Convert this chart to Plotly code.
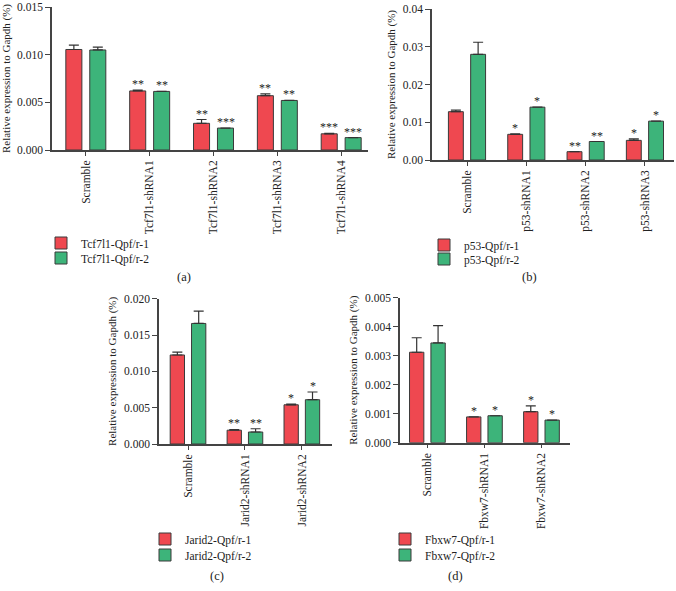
import plotly.graph_objects as go

RED = "#EF4850"
GREEN = "#3DB47A"
EDGE = "#3a3a3a"
FONT = "Liberation Serif, Times New Roman, serif"
W, H = 676, 591

# ---------------- data ----------------
a_categories = ["Scramble", "Tcf7l1-shRNA1", "Tcf7l1-shRNA2", "Tcf7l1-shRNA3", "Tcf7l1-shRNA4"]
a_r1 = [0.01055, 0.0062, 0.0028, 0.0057, 0.0017]
a_r1_err = [0.00045, 0.0001, 0.0004, 0.0002, 0.00005]
a_r2 = [0.0105, 0.00615, 0.0023, 0.0052, 0.0013]
a_r2_err = [0.0003, 0.0, 0.0, 0.0, 0.0]
a_r1_sig = ["", "**", "**", "**", "***"]
a_r2_sig = ["", "**", "***", "**", "***"]
a_names = ["Tcf7l1-Qpf/r-1", "Tcf7l1-Qpf/r-2"]

b_categories = ["Scramble", "p53-shRNA1", "p53-shRNA2", "p53-shRNA3"]
b_r1 = [0.0128, 0.0068, 0.0022, 0.0052]
b_r1_err = [0.0004, 0.0001, 0.0, 0.0004]
b_r2 = [0.0280, 0.0140, 0.0049, 0.0103]
b_r2_err = [0.0032, 0.0, 0.0, 0.0]
b_r1_sig = ["", "*", "**", "*"]
b_r2_sig = ["", "*", "**", "*"]
b_names = ["p53-Qpf/r-1", "p53-Qpf/r-2"]

c_categories = ["Scramble", "Jarid2-shRNA1", "Jarid2-shRNA2"]
c_r1 = [0.01226, 0.0019, 0.0054]
c_r1_err = [0.0004, 0.0001, 0.0001]
c_r2 = [0.0166, 0.00165, 0.0061]
c_r2_err = [0.0017, 0.00045, 0.00106]
c_r1_sig = ["", "**", "*"]
c_r2_sig = ["", "**", "*"]
c_names = ["Jarid2-Qpf/r-1", "Jarid2-Qpf/r-2"]

d_categories = ["Scramble", "Fbxw7-shRNA1", "Fbxw7-shRNA2"]
d_r1 = [0.00312, 0.00089, 0.00107]
d_r1_err = [0.0005, 0.0, 0.0002]
d_r2 = [0.00344, 0.00093, 0.00078]
d_r2_err = [0.0006, 0.0, 0.0]
d_r1_sig = ["", "*", "*"]
d_r2_sig = ["", "*", "*"]
d_names = ["Fbxw7-Qpf/r-1", "Fbxw7-Qpf/r-2"]

# ---------------- layout helpers ----------------
def px_x(p):
    return p / W

def px_y(p):
    return 1 - p / H

panels = [
    dict(key="a", cats=a_categories, r1=a_r1, e1=a_r1_err, r2=a_r2, e2=a_r2_err,
         s1=a_r1_sig, s2=a_r2_sig, names=a_names,
         xdom=(52, 368), ydom=(150, 7), xr=(-0.53, 4.42), yr=(0, 0.01501), dt=0.005, fmt=".3f",
         leg=(41, 243, 258), cap=(184, 277), slot=24),
    dict(key="b", cats=b_categories, r1=b_r1, e1=b_r1_err, r2=b_r2, e2=b_r2_err,
         s1=b_r1_sig, s2=b_r2_sig, names=b_names,
         xdom=(432, 674), ydom=(160, 9), xr=(-0.59, 3.49), yr=(0, 0.04001), dt=0.01, fmt=".2f",
         leg=(424, 245, 259), cap=(529, 277), slot=22),
    dict(key="c", cats=c_categories, r1=c_r1, e1=c_r1_err, r2=c_r2, e2=c_r2_err,
         s1=c_r1_sig, s2=c_r2_sig, names=c_names,
         xdom=(159, 332), ydom=(444, 298.7), xr=(-0.51, 2.53), yr=(0, 0.02001), dt=0.005, fmt=".3f",
         leg=(145, 539, 555), cap=(217, 576), slot=22),
    dict(key="d", cats=d_categories, r1=d_r1, e1=d_r1_err, r2=d_r2, e2=d_r2_err,
         s1=d_r1_sig, s2=d_r2_sig, names=d_names,
         xdom=(400, 570), ydom=(442.7, 297.7), xr=(-0.48, 2.5), yr=(0, 0.005001), dt=0.001, fmt=".3f",
         leg=(385, 539, 555), cap=(455, 576), slot=21),
]

fig = go.Figure()
annotations = []
layout_extra = {}
leg_count = 0

for i, p in enumerate(panels):
    n = i + 1
    xa = "x" if n == 1 else f"x{n}"
    ya = "y" if n == 1 else f"y{n}"
    xkey = "xaxis" if n == 1 else f"xaxis{n}"
    ykey = "yaxis" if n == 1 else f"yaxis{n}"

    series = [(p["r1"], p["e1"], RED, p["names"][0], p["leg"][1]),
              (p["r2"], p["e2"], GREEN, p["names"][1], p["leg"][2])]
    for vals, errs, color, name, ly in series:
        leg_count += 1
        lkey = "legend" if leg_count == 1 else f"legend{leg_count}"
        fig.add_trace(go.Bar(
            x=p["cats"], y=vals, name=name,
            marker=dict(color=color, line=dict(color=EDGE, width=1)),
            error_y=dict(type="data", symmetric=False, array=errs,
                         arrayminus=[0] * len(errs), color="#333333",
                         thickness=1.2, width=5),
            xaxis=xa, yaxis=ya, legend=lkey, offsetgroup=name,
        ))
        layout_extra[lkey] = dict(
            x=px_x(p["leg"][0]), y=px_y(ly), xanchor="left", yanchor="middle",
            font=dict(family=FONT, size=11.5, color="#222222"), bgcolor="rgba(0,0,0,0)",
            itemclick=False, borderwidth=0,
        )

    for vals, errs, sigs, shift in [(p["r1"], p["e1"], p["s1"], -p["slot"] / 2),
                                    (p["r2"], p["e2"], p["s2"], p["slot"] / 2)]:
        for c, v, e, s in zip(p["cats"], vals, errs, sigs):
            if s:
                annotations.append(dict(
                    x=c, y=v + e, xref=xa, yref=ya, text=s, showarrow=False,
                    xanchor="center", yanchor="bottom", xshift=shift, yshift=-3,
                    font=dict(family=FONT, size=12, color="#222222")))

    layout_extra[xkey] = dict(
        domain=[px_x(p["xdom"][0]), px_x(p["xdom"][1])], anchor=ya,
        type="category", range=list(p["xr"]),
        tickangle=-90, ticks="outside", ticklen=4, tickwidth=1.2, tickcolor="#444444",
        showline=True, linecolor="#444444", linewidth=1.5,
        tickfont=dict(family=FONT, size=11.5, color="#222222"),
        showgrid=False, zeroline=False, fixedrange=True, automargin=False,
    )
    layout_extra[ykey] = dict(
        domain=[px_y(p["ydom"][0]), px_y(p["ydom"][1])], anchor=xa,
        range=list(p["yr"]), dtick=p["dt"], tick0=0, tickformat=p["fmt"],
        ticks="outside", ticklen=5, tickwidth=1.2, tickcolor="#444444",
        showline=True, linecolor="#444444", linewidth=1.5,
        tickfont=dict(family=FONT, size=11.5, color="#222222"),
        ticklabeloverflow="allow",
        title=dict(text="Relative expression to Gapdh (%)",
                   font=dict(family=FONT, size=11, color="#222222"), standoff=5),
        showgrid=False, zeroline=False, fixedrange=True, automargin=False,
    )
    annotations.append(dict(
        x=px_x(p["cap"][0]), y=px_y(p["cap"][1]), xref="paper", yref="paper",
        text=f"({p['key']})", showarrow=False, xanchor="center", yanchor="middle",
        font=dict(family=FONT, size=12.5, color="#222222")))

fig.update_layout(
    width=W, height=H, autosize=False, margin=dict(l=0, r=0, t=0, b=0, pad=0),
    paper_bgcolor="white", plot_bgcolor="white",
    barmode="group", bargap=0.25, bargroupgap=0.33,
    showlegend=True, annotations=annotations,
    **layout_extra,
)

fig.write_html(
    "out.html",
    config={"displayModeBar": False},
    post_script="document.body.style.margin='0';document.body.style.padding='0';",
)
